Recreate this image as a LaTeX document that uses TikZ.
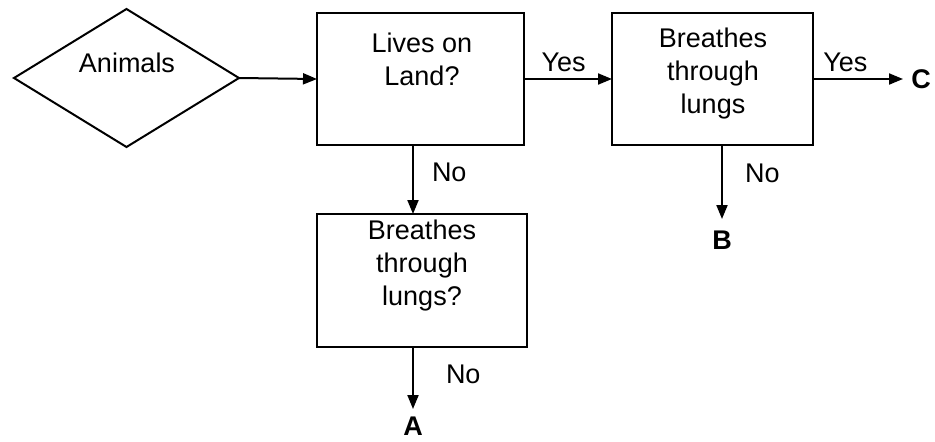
\documentclass[tikz,border=0pt]{standalone}
\usepackage{fontspec}
\setmainfont{Liberation Sans}
\usetikzlibrary{shapes.geometric,arrows.meta}
\begin{document}
\begin{tikzpicture}[x=1pt,y=-1pt,
  box/.style={draw, line width=2pt, inner sep=0pt, outer sep=0pt},
  txt/.style={font=\fontsize{27}{33}\selectfont, align=center, inner sep=0pt},
  endl/.style={txt, font=\bfseries\fontsize{27}{33}\selectfont},
  arr/.style={-{Triangle[length=14pt,width=11pt]}, line width=2pt}]
\useasboundingbox (0,0) rectangle (935,442);
% shapes
\node[box, diamond, minimum width=225pt, minimum height=138pt] (dia) at (126.5,78) {};
\node[txt] (tdia) at (127,63) {Animals};
\node[box, minimum width=207pt, minimum height=132pt] (b1) at (420.5,79) {};
\node[txt] (t1) at (422,59) {Lives on\\Land?};
\node[box, minimum width=201pt, minimum height=132pt] (b2) at (712.5,79) {};
\node[txt] (t2) at (713,74) {Breathes\\through\\lungs};
\node[box, minimum width=210pt, minimum height=133pt] (b3) at (422,280.5) {};
\node[txt] (t3) at (422,266) {Breathes\\through\\lungs?};
% end labels
\node[endl] (C) at (921,79) {C};
\node[endl] (B) at (722,240) {B};
\node[endl] (A) at (413,426) {A};
% connectors
\draw[arr] (dia.east) -- (b1.west);
\draw[arr] (b1.east) -- (b2.west) node[txt, pos=0.45, above=6pt] (yes1) {Yes};
\draw[arr, shorten >=18pt] (b2.east) -- (C.center) node[txt, pos=0.3, above=6pt] (yes2) {Yes};
\draw[arr] ([xshift=-7.5pt]b1.south) coordinate (d1) -- (d1 |- b3.north)
  node[txt, pos=0.4, right=18pt] (no1) {No};
\draw[arr, shorten >=21pt] (b2.south -| B) -- (B.center)
  node[txt, pos=0.3, right=22pt] (no2) {No};
\draw[arr, shorten >=17pt] (b3.south -| A) -- (A.center)
  node[txt, pos=0.35, right=32pt] (no3) {No};
\end{tikzpicture}
\end{document}
